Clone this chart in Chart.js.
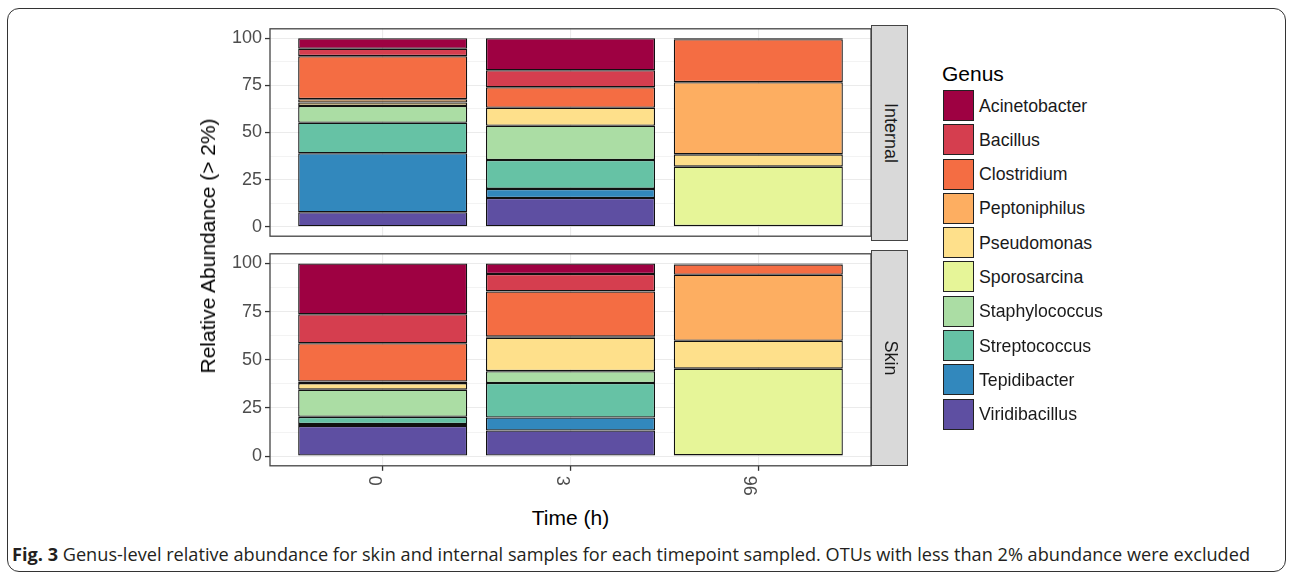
<!DOCTYPE html>
<html>
<head>
<meta charset="utf-8">
<script src="https://cdn.jsdelivr.net/npm/chart.js@4.4.1/dist/chart.umd.min.js"></script>
<style>
    body {
        margin: 0;
        width: 1292px;
        height: 576px;
        background: #fff;
        position: relative;
        overflow: hidden;
        font-family: 'Liberation Sans', Arial, sans-serif;
    }
    .frame {
        position: absolute;
        left: 7px;
        top: 8px;
        width: 1279px;
        height: 564px;
        border: 1px solid #333;
        border-radius: 12px;
        box-sizing: border-box;
    }
    canvas { position: absolute; }
    .strip {
        position: absolute;
        left: 871px;
        width: 37px;
        background: #d9d9d9;
        border: 1.2px solid #444;
        box-sizing: border-box;
    }
    .strip span {
        position: absolute;
        left: 50%;
        top: 50%;
        transform: translate(-50%, -50%) rotate(90deg);
        font-size: 18px;
        color: #1a1a1a;
        white-space: nowrap;
    }
    .axis-title {
        position: absolute;
        font-size: 21px;
        color: #000;
        white-space: nowrap;
    }
    #yTitle {
        left: 208px;
        top: 245.5px;
        transform: translate(-50%, -50%) rotate(-90deg);
    }
    #xTitle {
        left: 570.5px;
        top: 518px;
        transform: translate(-50%, -50%);
    }
    #legend {
        position: absolute;
        left: 942px;
        top: 62px;
    }
    #legend .title {
        font-size: 21px;
        line-height: 24px;
        height: 28px;
    }
    #legend .row {
        position: relative;
        height: 34.3px;
    }
    #legend .key {
        position: absolute;
        left: 1px;
        top: 0;
        width: 31px;
        height: 31px;
        border: 1.2px solid #222;
        box-sizing: border-box;
    }
    #legend .label {
        position: absolute;
        left: 37px;
        top: 15.5px;
        transform: translateY(-50%);
        font-size: 17.7px;
        color: #1a1a1a;
        white-space: nowrap;
    }
    #caption {
        position: absolute;
        left: 12px;
        top: 543px;
        font-family: 'Open Sans', sans-serif;
        font-size: 18px;
        line-height: 22px;
        color: #231f20;
        white-space: nowrap;
        transform-origin: left center;
    }
</style>
</head>
<body>
<div class="frame"></div>
<canvas id="internalChart" width="680" height="235" style="left:200px; top:15px;"></canvas>
<canvas id="skinChart" width="680" height="260" style="left:200px; top:240px;"></canvas>
<div class="strip" style="top:25.2px; height:215.6px;"><span>Internal</span></div>
<div class="strip" style="top:250.2px; height:215.6px;"><span>Skin</span></div>
<div class="axis-title" id="yTitle">Relative Abundance (&gt; 2%)</div>
<div class="axis-title" id="xTitle">Time (h)</div>
<div id="legend"></div>
<div id="caption"><b>Fig. 3</b> Genus-level relative abundance for skin and internal samples for each timepoint sampled. OTUs with less than 2% abundance were excluded</div>

<script>
const timepoints = ['0', '3', '96'];
const genera = ['Acinetobacter', 'Bacillus', 'Clostridium', 'Peptoniphilus', 'Pseudomonas',
    'Sporosarcina', 'Staphylococcus', 'Streptococcus', 'Tepidibacter', 'Viridibacillus'];
const genusColors = ['#9e0142', '#d53e4f', '#f46d43', '#fdae61', '#fee08b',
    '#e6f598', '#abdda4', '#66c2a5', '#3288bd', '#5e4fa2'];

// one row per genus, one column per timepoint (0, 3, 96 h)
const internalValues = [
    [5.6, 17.0, 0.5],
    [3.9, 9.0, null],
    [22.8, 10.9, 22.8],
    [1.8, null, 38.3],
    [1.8, 9.5, 6.5],
    [null, null, 31.5],
    [8.9, 18.2, null],
    [16.2, 15.3, null],
    [31.3, 4.8, null],
    [7.7, 15.3, 0.4]
];
const skinValues = [
    [26.4, 5.5, 0.5],
    [15.0, 9.0, null],
    [19.9, 23.5, 5.4],
    [0.8, 0.5, 34.2],
    [3.4, 17.4, 14.5],
    [null, null, 45.0],
    [14.1, 6.1, null],
    [3.7, 17.9, null],
    [1.0, 6.8, null],
    [15.7, 13.3, 0.4]
];

const yTickLabels = [0, 25, 50, 75, 100];
const yGridLines = [0, 12.5, 25, 37.5, 50, 62.5, 75, 87.5, 100];

const panelBorder = {
    id: 'panelBorder',
    afterDraw(chart) {
        const { ctx, chartArea } = chart;
        ctx.save();
        ctx.strokeStyle = '#444';
        ctx.lineWidth = 1.3;
        ctx.strokeRect(chartArea.left, chartArea.top, chartArea.width, chartArea.height);
        ctx.restore();
    }
};

// ggplot style x labels: turned clockwise, reading downwards
const timeLabels = {
    id: 'timeLabels',
    afterDraw(chart) {
        const { ctx, chartArea } = chart;
        const xScale = chart.scales.x;
        ctx.save();
        ctx.font = '18px "Liberation Sans", Arial, sans-serif';
        ctx.fillStyle = '#4d4d4d';
        ctx.textAlign = 'left';
        ctx.textBaseline = 'top';
        timepoints.forEach((t, j) => {
            const px = xScale.getPixelForValue(j + 1);
            ctx.save();
            ctx.translate(px, chartArea.bottom + 10);
            ctx.rotate(Math.PI / 2);
            ctx.fillText(t, 0, 0);
            ctx.restore();
        });
        ctx.restore();
    }
};

function makePanel(canvasId, values, showX) {
    const datasets = genera.map((genus, i) => ({
        label: genus,
        data: timepoints.map((t, j) => ({ x: j + 1, y: values[i][j] })),
        backgroundColor: genusColors[i],
        borderColor: '#111',
        borderWidth: 1.3,
        borderSkipped: false,
        barPercentage: 0.9,
        categoryPercentage: 1
    })).reverse();

    return new Chart(document.getElementById(canvasId), {
        type: 'bar',
        data: { datasets: datasets },
        options: {
            responsive: false,
            animation: false,
            devicePixelRatio: 1,
            layout: {
                padding: { top: 10.2, right: 9, left: 0, bottom: 0 }
            },
            scales: {
                x: {
                    type: 'linear',
                    min: 0.4,
                    max: 3.6,
                    offset: false,
                    stacked: true,
                    afterBuildTicks: axis => {
                        axis.ticks = timepoints.map((t, j) => ({ value: j + 1 }));
                    },
                    afterFit: axis => {
                        axis.height = showX ? 34.2 : 0;
                    },
                    ticks: { display: false },
                    border: { display: false },
                    grid: {
                        offset: false,
                        color: '#ebebeb',
                        lineWidth: 1.1,
                        drawTicks: showX,
                        tickLength: 5,
                        tickColor: '#333',
                        tickWidth: 1.3
                    }
                },
                y: {
                    min: -5,
                    max: 105,
                    stacked: true,
                    afterBuildTicks: axis => {
                        axis.ticks = yGridLines.map(v => ({ value: v }));
                    },
                    afterFit: axis => {
                        axis.width = 70;
                    },
                    border: { display: false },
                    ticks: {
                        padding: 3,
                        color: '#4d4d4d',
                        font: { family: '"Liberation Sans", Arial, sans-serif', size: 18 },
                        callback: value => yTickLabels.includes(value) ? String(value) : ''
                    },
                    grid: {
                        color: '#ebebeb',
                        lineWidth: ctx => yTickLabels.includes(ctx.tick.value) ? 1.1 : 0.6,
                        tickLength: 5,
                        tickColor: ctx => yTickLabels.includes(ctx.tick.value) ? '#333' : 'rgba(0,0,0,0)',
                        tickWidth: 1.3
                    }
                }
            },
            plugins: {
                legend: { display: false },
                tooltip: { enabled: false }
            }
        },
        plugins: showX ? [panelBorder, timeLabels] : [panelBorder]
    });
}

// Legend
function renderLegend() {
    const legend = document.getElementById('legend');
    legend.innerHTML = `
        <div class="title">Genus</div>
        ${genera.map((genus, i) => `
            <div class="row">
                <div class="key" style="background:${genusColors[i]}"></div>
                <div class="label">${genus}</div>
            </div>
        `).join('')}
    `;
}

function fitCaption() {
    const caption = document.getElementById('caption');
    const w = caption.getBoundingClientRect().width;
    caption.style.transform = `scaleX(${1238 / w})`;
}

makePanel('internalChart', internalValues, false);
makePanel('skinChart', skinValues, true);
renderLegend();
fitCaption();
</script>
</body>
</html>
